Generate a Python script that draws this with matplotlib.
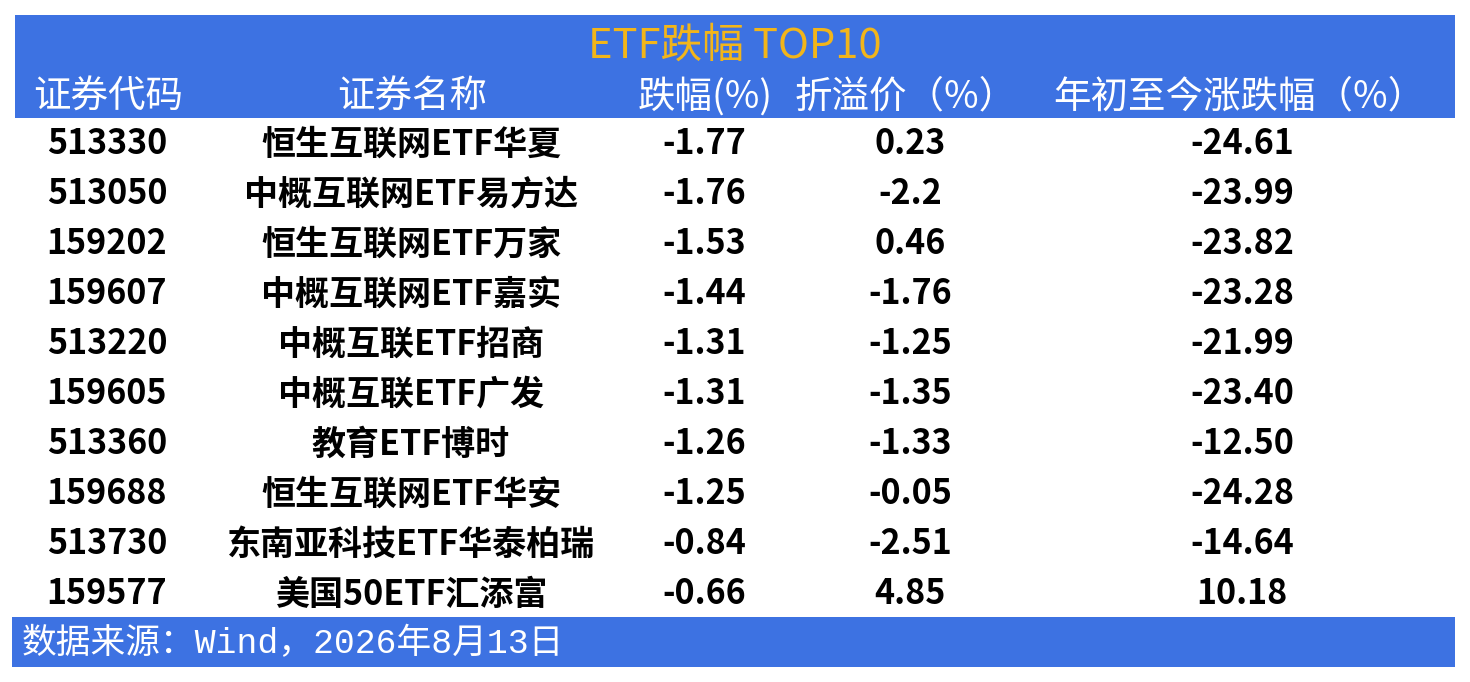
import matplotlib.pyplot as plt
from matplotlib.patches import Rectangle

plt.rcParams['font.family'] = ['Noto Sans CJK SC', 'DejaVu Sans']

title = "ETF跌幅 TOP10"
headers = ["证券代码", "证券名称", "跌幅(%)", "折溢价（%）", "年初至今涨跌幅（%）"]
codes = ["513330", "513050", "159202", "159607", "513220",
         "159605", "513360", "159688", "513730", "159577"]
names = ["恒生互联网ETF华夏", "中概互联网ETF易方达", "恒生互联网ETF万家", "中概互联网ETF嘉实",
         "中概互联ETF招商", "中概互联ETF广发", "教育ETF博时", "恒生互联网ETF华安",
         "东南亚科技ETF华泰柏瑞", "美国50ETF汇添富"]
change = ["-1.77", "-1.76", "-1.53", "-1.44", "-1.31", "-1.31", "-1.26", "-1.25", "-0.84", "-0.66"]
premium = ["0.23", "-2.2", "0.46", "-1.76", "-1.25", "-1.35", "-1.33", "-0.05", "-2.51", "4.85"]
ytd = ["-24.61", "-23.99", "-23.82", "-23.28", "-21.99", "-23.40", "-12.50", "-24.28", "-14.64", "10.18"]
source = "数据来源：Wind，2026年8月13日"

blue = "#3D72E2"
gold = "#F2B51A"

fig = plt.figure(figsize=(14.7, 6.82), dpi=100)
ax = fig.add_axes([0, 0, 1, 1])
ax.set_xlim(0, 1470)
ax.set_ylim(682, 0)
ax.axis("off")

# header band and footer band
ax.add_patch(Rectangle((15, 15), 1440, 103, color=blue, lw=0))
ax.add_patch(Rectangle((12, 617), 1443, 50, color=blue, lw=0))

ax.text(735, 46, title, color=gold, fontsize=30, ha="center", va="center")

head_x = [108, 412, 705, 906, 1239]
for x, h in zip(head_x, headers):
    ax.text(x, 97, h, color="white", fontsize=27, ha="center", va="center")

col_x = [107, 411, 704, 910, 1242]
for i in range(len(codes)):
    y = 144 + 50 * i
    row = [codes[i], names[i], change[i], premium[i], ytd[i]]
    for x, v in zip(col_x, row):
        ax.text(x, y, v, color="black", fontsize=24.5, fontweight="bold",
                ha="center", va="center")

ax.text(22, 644, source, color="white", fontsize=25, ha="left", va="center",
        family=["Liberation Mono", "Noto Sans CJK SC"])

fig.savefig("out.png", dpi=100, facecolor="white")
